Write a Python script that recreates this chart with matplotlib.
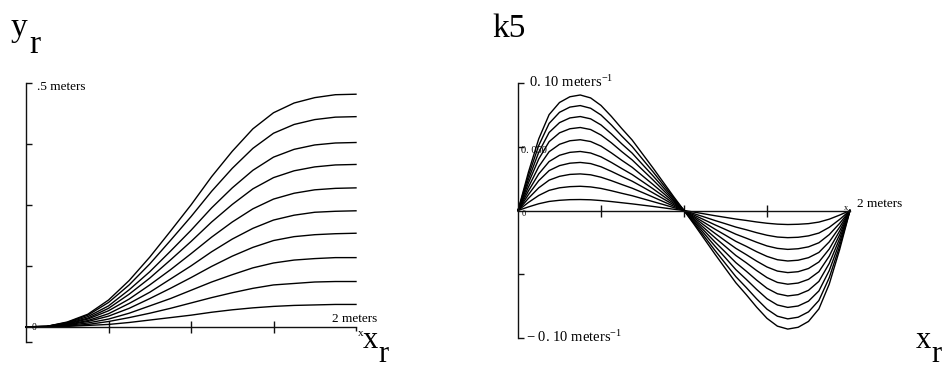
import matplotlib
matplotlib.use("Agg")
import matplotlib.pyplot as plt

plt.rcParams['font.family'] = ['Liberation Serif', 'DejaVu Serif']
plt.rcParams['mathtext.fontset'] = 'custom'
plt.rcParams['mathtext.rm'] = 'Liberation Serif'
plt.rcParams['mathtext.it'] = 'Liberation Serif'

# road position samples, x in meters
xr = [0, 0.125, 0.25, 0.375, 0.5, 0.625, 0.75, 0.875, 1.0,
      1.125, 1.25, 1.375, 1.5, 1.625, 1.75, 1.875, 2.0]

# lateral offset y_r for each of the 10 curves (meters)
yr_1 = [0, 0.001, 0.010, 0.026, 0.055, 0.095, 0.143, 0.196, 0.250, 0.308, 0.360, 0.406, 0.439, 0.459, 0.470, 0.476, 0.477]
yr_2 = [0, 0.001, 0.009, 0.024, 0.050, 0.086, 0.129, 0.177, 0.226, 0.278, 0.325, 0.366, 0.397, 0.415, 0.425, 0.430, 0.431]
yr_3 = [0, 0.001, 0.008, 0.021, 0.043, 0.076, 0.113, 0.155, 0.198, 0.244, 0.285, 0.321, 0.348, 0.364, 0.373, 0.377, 0.378]
yr_4 = [0, 0.001, 0.007, 0.018, 0.038, 0.067, 0.100, 0.137, 0.175, 0.215, 0.251, 0.283, 0.306, 0.320, 0.328, 0.332, 0.333]
yr_5 = [0, 0.001, 0.006, 0.016, 0.033, 0.057, 0.086, 0.117, 0.150, 0.184, 0.215, 0.242, 0.262, 0.274, 0.281, 0.284, 0.285]
yr_6 = [0, 0.000, 0.005, 0.013, 0.027, 0.048, 0.071, 0.098, 0.125, 0.154, 0.180, 0.202, 0.219, 0.229, 0.235, 0.237, 0.238]
yr_7 = [0, 0.000, 0.004, 0.011, 0.022, 0.038, 0.058, 0.079, 0.101, 0.124, 0.145, 0.163, 0.177, 0.185, 0.189, 0.191, 0.192]
yr_8 = [0, 0.000, 0.003, 0.008, 0.016, 0.028, 0.043, 0.058, 0.075, 0.092, 0.107, 0.121, 0.131, 0.137, 0.140, 0.142, 0.142]
yr_9 = [0, 0.000, 0.002, 0.005, 0.011, 0.019, 0.028, 0.038, 0.049, 0.060, 0.070, 0.079, 0.086, 0.089, 0.092, 0.093, 0.093]
yr_10 = [0, 0.000, 0.001, 0.003, 0.005, 0.009, 0.014, 0.019, 0.024, 0.030, 0.035, 0.039, 0.042, 0.044, 0.045, 0.046, 0.046]
yr_curves = [yr_1, yr_2, yr_3, yr_4, yr_5, yr_6, yr_7, yr_8, yr_9, yr_10]

# curvature k5 samples, x in meters
xk = [0, 0.0625, 0.125, 0.1875, 0.25, 0.3125, 0.375, 0.4375, 0.5, 0.5625, 0.625,
      0.6875, 0.75, 0.8125, 0.875, 0.9375, 1.0, 1.0625, 1.125, 1.1875, 1.25,
      1.3125, 1.375, 1.4375, 1.5, 1.5625, 1.625, 1.6875, 1.75, 1.8125, 1.875,
      1.9375, 2.0]

# curvature for each of the 10 curves (1/meters)
k5_1 = [0, 0.0299, 0.0562, 0.0752, 0.0847, 0.0892, 0.0906, 0.0883, 0.0824, 0.0738, 0.0643,
        0.0553, 0.0444, 0.0335, 0.0222, 0.0109, 0,
        -0.0112, -0.0228, -0.0344, -0.0456, -0.0567, -0.0660, -0.0758, -0.0846, -0.0907,
        -0.0930, -0.0916, -0.0870, -0.0772, -0.0577, -0.0307, 0]
k5_2 = [0, 0.0272, 0.0510, 0.0683, 0.0770, 0.0811, 0.0823, 0.0802, 0.0749, 0.0671, 0.0584,
        0.0502, 0.0403, 0.0305, 0.0202, 0.0099, 0,
        -0.0102, -0.0208, -0.0315, -0.0417, -0.0519, -0.0604, -0.0693, -0.0774, -0.0829,
        -0.0850, -0.0837, -0.0795, -0.0706, -0.0527, -0.0281, 0]
k5_3 = [0, 0.0243, 0.0457, 0.0612, 0.0689, 0.0726, 0.0737, 0.0719, 0.0671, 0.0601, 0.0523,
        0.0450, 0.0361, 0.0273, 0.0181, 0.0088, 0,
        -0.0091, -0.0186, -0.0281, -0.0372, -0.0464, -0.0540, -0.0619, -0.0692, -0.0741,
        -0.0760, -0.0749, -0.0711, -0.0631, -0.0471, -0.0251, 0]
k5_4 = [0, 0.0215, 0.0404, 0.0540, 0.0609, 0.0641, 0.0651, 0.0635, 0.0592, 0.0531, 0.0462,
        0.0397, 0.0319, 0.0241, 0.0159, 0.0078, 0,
        -0.0080, -0.0164, -0.0248, -0.0328, -0.0409, -0.0476, -0.0546, -0.0610, -0.0653,
        -0.0670, -0.0660, -0.0626, -0.0556, -0.0415, -0.0221, 0]
k5_5 = [0, 0.0183, 0.0344, 0.0461, 0.0519, 0.0547, 0.0555, 0.0541, 0.0505, 0.0452, 0.0394,
        0.0339, 0.0272, 0.0205, 0.0136, 0.0067, 0,
        -0.0069, -0.0142, -0.0214, -0.0283, -0.0353, -0.0410, -0.0471, -0.0526, -0.0564,
        -0.0578, -0.0569, -0.0540, -0.0480, -0.0358, -0.0191, 0]
k5_6 = [0, 0.0153, 0.0287, 0.0384, 0.0433, 0.0456, 0.0463, 0.0451, 0.0421, 0.0377, 0.0329,
        0.0282, 0.0227, 0.0171, 0.0113, 0.0056, 0,
        -0.0058, -0.0119, -0.0180, -0.0239, -0.0297, -0.0346, -0.0397, -0.0443, -0.0475,
        -0.0487, -0.0480, -0.0455, -0.0404, -0.0302, -0.0161, 0]
k5_7 = [0, 0.0124, 0.0234, 0.0313, 0.0352, 0.0371, 0.0377, 0.0368, 0.0343, 0.0307, 0.0268,
        0.0230, 0.0185, 0.0139, 0.0092, 0.0045, 0,
        -0.0048, -0.0097, -0.0147, -0.0194, -0.0242, -0.0281, -0.0323, -0.0360, -0.0386,
        -0.0396, -0.0390, -0.0370, -0.0329, -0.0246, -0.0131, 0]
k5_8 = [0, 0.0095, 0.0178, 0.0238, 0.0268, 0.0283, 0.0287, 0.0280, 0.0261, 0.0234, 0.0204,
        0.0175, 0.0141, 0.0106, 0.0070, 0.0034, 0,
        -0.0037, -0.0075, -0.0113, -0.0149, -0.0186, -0.0217, -0.0249, -0.0278, -0.0297,
        -0.0305, -0.0300, -0.0285, -0.0253, -0.0189, -0.0101, 0]
k5_9 = [0, 0.0063, 0.0118, 0.0158, 0.0178, 0.0187, 0.0190, 0.0185, 0.0173, 0.0155, 0.0135,
        0.0116, 0.0093, 0.0070, 0.0047, 0.0023, 0,
        -0.0026, -0.0052, -0.0079, -0.0104, -0.0130, -0.0151, -0.0174, -0.0194, -0.0208,
        -0.0213, -0.0210, -0.0199, -0.0177, -0.0132, -0.0070, 0]
k5_10 = [0, 0.0028, 0.0053, 0.0071, 0.0080, 0.0085, 0.0086, 0.0084, 0.0078, 0.0070, 0.0061,
         0.0052, 0.0042, 0.0032, 0.0021, 0.0010, 0,
         -0.0013, -0.0027, -0.0041, -0.0054, -0.0067, -0.0078, -0.0090, -0.0100, -0.0107,
         -0.0110, -0.0108, -0.0103, -0.0091, -0.0068, -0.0036, 0]
k5_curves = [k5_1, k5_2, k5_3, k5_4, k5_5, k5_6, k5_7, k5_8, k5_9, k5_10]

W, H = 946, 369


def fx(px):
    return px / W


def fy(py):
    return 1 - py / H


def style_axes(ax, yticks):
    ax.patch.set_visible(False)
    ax.spines['top'].set_visible(False)
    ax.spines['right'].set_visible(False)
    ax.spines['bottom'].set_position(('data', 0))
    for s in ('left', 'bottom'):
        ax.spines[s].set_linewidth(1.0)
        ax.spines[s].set_color('#111111')
    ax.set_xticks([0.5, 1.0, 1.5])
    ax.set_yticks(yticks)
    ax.tick_params(axis='x', direction='inout', length=8, width=1.0,
                   color='#111111', labelbottom=False)
    ax.tick_params(axis='y', direction='in', length=4, width=1.0,
                   color='#111111', labelleft=False)


fig = plt.figure(figsize=(W / 100, H / 100), dpi=100)

# left: road shape
ax1 = fig.add_axes([fx(26), 27 / H, 330 / W, 259 / H])
ax1.set_xlim(0, 2)
ax1.set_ylim(-0.031, 0.5)
style_axes(ax1, [-0.031, 0.125, 0.25, 0.375, 0.5])
ax1.set_xticks([2.0], minor=True)
ax1.tick_params(axis='x', which='minor', direction='out', length=3,
                width=1.0, color='#111111')
for row in yr_curves:
    ax1.plot(xr, row, color='black', lw=1.0, clip_on=False)

# right: curvature
ax2 = fig.add_axes([fx(518), 31 / H, 332 / W, 255 / H])
ax2.set_xlim(0, 2)
ax2.set_ylim(-0.1, 0.1)
style_axes(ax2, [-0.1, -0.05, 0.05, 0.1])
for row in k5_curves:
    ax2.plot(xk, row, color='black', lw=1.0, clip_on=False)

big = dict(fontsize=24, va='baseline', ha='left', color='black')
fig.text(fx(11), fy(36), 'y', **big)
fig.text(fx(29), fy(53), 'r', **big)
fig.text(fx(492), fy(37), 'k5', **big)
sub = dict(fontsize=22, va='baseline', ha='left', color='black')
fig.text(fx(363), fy(348), 'x', **sub)
fig.text(fx(378), fy(362), 'r', **sub)
fig.text(fx(916), fy(348), 'x', **sub)
fig.text(fx(931), fy(362), 'r', **sub)

small = dict(fontsize=9.5, va='baseline', ha='left', color='black')
fig.text(fx(37), fy(90), '.5 meters', **small)
fig.text(fx(332), fy(322), '2 meters', **small)
fig.text(fx(358), fy(336), 'x', fontsize=8, va='baseline', ha='left')
fig.text(fx(32), fy(330.5), '0', fontsize=7, va='baseline', ha='left')

fig.text(fx(529), fy(87), r'0. 10 meters$^{-1}$', fontsize=10.5,
         va='baseline', ha='left')
fig.text(fx(526), fy(342), r'$-$ 0. 10 meters$^{-1}$', fontsize=10.5,
         va='baseline', ha='left')
fig.text(fx(521), fy(153), '0. 050', fontsize=7.5, va='baseline', ha='left',
         zorder=0)
fig.text(fx(857), fy(207), '2 meters', **small)
fig.text(fx(844), fy(210), 'x', fontsize=6, va='baseline', ha='left')
fig.text(fx(522), fy(216), '0', fontsize=6, va='baseline', ha='left')

fig.savefig('out.png', dpi=100, facecolor='white')
